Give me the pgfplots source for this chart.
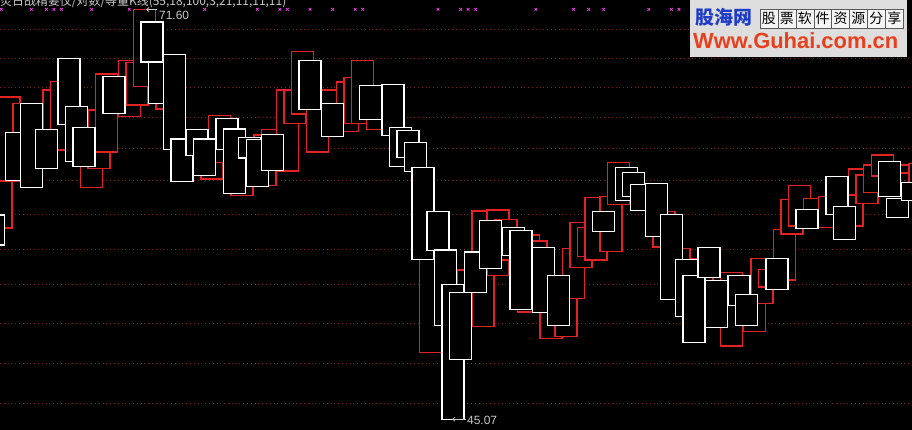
\documentclass[border=0pt]{standalone}
\usepackage{pgfplots}
\pgfplotsset{compat=1.18}
\usepackage{pgfplotstable}
\usepackage{fontspec}
\setmainfont{Liberation Sans}
\newfontfamily\cjk{Noto Sans CJK SC}
\usetikzlibrary{arrows.meta}

\definecolor{boxred}{RGB}{228,34,34}
\definecolor{gridred}{RGB}{120,30,30}
\definecolor{signal}{RGB}{215,60,215}
\definecolor{labelgray}{RGB}{200,200,200}
\definecolor{wmgray}{RGB}{222,222,222}
\definecolor{wmblue}{RGB}{30,60,200}
\definecolor{wmred}{RGB}{232,64,28}

% equivolume boxes: bar index, low, high
\pgfplotstableread{
k lo hi
-3 56.35 58.30
0 60.54 63.65
2 60.09 65.53
4 61.32 63.84
7 64.17 68.44
8 61.75 65.33
9 61.42 63.97
13 64.88 67.28
18 68.20 70.79
19 65.53 68.20
21 62.55 68.70
22 60.48 63.22
24 62.16 63.84
25 60.87 63.22
28 62.55 64.56
29 59.68 63.86
31 61.99 63.33
32 60.15 63.20
34 61.16 63.52
39 65.14 68.31
42 63.39 65.53
47 64.49 66.69
50 63.46 66.76
51 61.42 63.97
52 62.03 63.78
53 61.13 63.00
54 55.43 61.38
56 56.01 58.54
57 51.16 56.03
58 45.07 53.81
59 48.95 53.29
61 53.29 55.90
63 54.85 57.95
66 55.69 57.50
67 52.19 57.31
70 52.00 56.21
72 51.16 54.39
78 57.24 58.54
81 59.25 61.38
82 59.51 61.06
83 58.60 60.28
85 56.92 60.35
87 52.84 58.34
89 51.74 55.43
90 50.06 54.39
92 54.26 56.21
93 51.03 54.07
96 52.45 54.39
97 51.16 53.16
101 53.49 55.49
105 57.44 58.67
109 58.34 60.80
110 56.72 58.86
116 59.51 61.77
117 58.15 59.38
119 59.25 60.41
}\whiteboxes

% lagged boxes drawn in red behind the main ones
\pgfplotstableread{
k lo hi
-2 57.45 65.09
-1 60.50 65.92
1 61.21 65.53
5 62.50 66.39
6 62.50 66.95
10 60.09 63.15
11 61.32 65.09
12 62.36 67.41
15 64.66 68.29
16 65.42 68.16
17 66.60 71.60
20 65.16 67.68
26 60.63 63.15
27 61.68 64.75
30 59.55 62.50
33 60.19 63.48
34 61.21 63.84
36 61.14 66.39
37 64.23 66.39
38 64.84 68.87
40 62.36 65.74
42 63.80 66.39
43 63.69 65.09
44 63.69 66.89
45 64.23 67.21
46 64.23 68.29
48 63.84 65.74
55 49.38 57.33
60 51.50 54.74
62 51.07 58.56
64 54.37 58.62
65 55.38 58.02
68 52.00 57.00
69 52.79 56.61
71 50.31 54.09
73 50.42 53.44
74 52.90 56.14
75 54.91 57.80
76 55.60 57.50
77 55.38 59.44
79 55.92 59.48
80 58.99 61.71
86 56.24 58.51
88 53.44 56.14
91 52.79 55.49
94 51.50 54.26
95 49.82 54.56
98 50.74 53.44
99 52.58 55.49
100 53.65 54.78
102 54.09 57.37
103 57.05 59.31
104 57.58 60.22
106 57.65 59.38
108 57.50 59.48
111 57.58 60.56
112 59.59 61.26
113 59.05 60.89
114 59.74 61.53
115 60.82 62.18
118 61.00 61.53
120 59.27 61.64
}\redboxes

\pgfplotsset{
  redbox/.style={draw=boxred, fill=black, line width=1.5bp, line join=miter},
  whitebox/.style={draw=white, fill=black, line width=1.4bp, line join=miter},
}

% each box is its own closed path, so a later box hides the ones under it
\newcommand\drawboxes[2]{%
  \pgfplotstablegetrowsof{#1}%
  \pgfmathtruncatemacro\nrows{\pgfplotsretval-1}%
  \pgfplotsinvokeforeach{0,...,\nrows}{%
    \pgfplotstablegetelem{##1}{k}\of#1\let\bk\pgfplotsretval
    \pgfplotstablegetelem{##1}{lo}\of#1\let\blo\pgfplotsretval
    \pgfplotstablegetelem{##1}{hi}\of#1\let\bhi\pgfplotsretval
    \pgfmathsetmacro\xl{\bk-1.4608}%
    \pgfmathsetmacro\xr{\bk+1.4608}%
    \edef\doplot{\noexpand\addplot[#2] coordinates
      {(\xl,\blo) (\xr,\blo) (\xr,\bhi) (\xl,\bhi)} -- cycle;}%
    \doplot
  }%
}

\begin{document}
\begin{tikzpicture}
\useasboundingbox (0,0) rectangle (912bp,430bp);
\clip (0,0) rectangle (912bp,430bp);
\fill[black] (0,0) rectangle (912bp,430bp);

\begin{axis}[
  at={(0,0)}, anchor=south west, scale only axis,
  width=912bp, height=430bp,
  xmin=-2.1647, xmax=118.95, ymin=44.377, ymax=72.215,
  axis line style={draw=none}, tick style={draw=none},
  xtick=\empty,
  ytick={46.11,48.71,51.27,53.78,56.06,58.36,60.54,62.61,64.64,66.58,68.40,70.32},
  yticklabels={}, ymajorgrids,
  grid style={gridred, line width=0.9bp, dash pattern=on 1bp off 2.8bp},
  clip=true]
\drawboxes{\redboxes}{redbox}
\drawboxes{\whiteboxes}{whitebox}

% signal marks along the top
\addplot[only marks, mark=x, mark size=1.8bp, color=signal,
  mark options={line width=0.9bp}] coordinates {
  (-2,71.61) (2,71.61) (4,71.61) (5,71.61) (6,71.61) (10,71.61)
  (15,71.61) (25,71.61) (32,71.61) (35,71.61) (36,71.61) (39,71.61)
  (42,71.61) (45,71.61) (46,71.61) (56,71.61) (59,71.61) (60,71.61)
  (61,71.61) (69,71.61) (74,71.61) (76,71.61) (78,71.61) (84,71.61)
  (87,71.61) (88,71.61)};

% extreme labels
\draw[labelgray, line width=0.7bp, -{Straight Barb[length=2.5bp,width=4bp]}]
  (axis cs:18.69,71.60) -- (axis cs:17.22,71.60);
\node[labelgray, anchor=west, inner sep=0, font=\fontsize{12}{12}\selectfont]
  at (axis cs:18.95,71.21) {71.60};
\draw[labelgray, line width=0.7bp, -{Straight Barb[length=2.5bp,width=4bp]}]
  (axis cs:59.72,45.07) -- (axis cs:57.86,45.07);
\node[labelgray, anchor=west, inner sep=0, font=\fontsize{12}{12}\selectfont]
  at (axis cs:59.85,45.00) {45.07};
\end{axis}

% indicator title
\node[anchor=base west, inner sep=0, text=labelgray, font=\cjk\fontsize{12}{12}\selectfont]
  at (0,424bp) {炎日战精要仪/对数/等量K线(55,18,100,3,21,11,11,11)};

% site banner
\fill[wmgray] (690bp,373bp) rectangle (907bp,430bp);
\node[anchor=west, inner sep=0, text=wmblue, font=\cjk\bfseries\fontsize{19}{19}\selectfont]
  at (695bp,412.5bp) {股海网};
\foreach \c [count=\i] in {股,票,软,件,资,源,分,享}{
  \draw[gray!70!black, line width=0.4bp, fill=white!92!gray]
    ({760bp+(\i-1)*17.9bp},402bp) rectangle +(17.9bp,19bp);
  \node[inner sep=0, font=\cjk\fontsize{14}{14}\selectfont]
    at ({760bp+(\i-0.5)*17.9bp},411.5bp) {\c};
}
\node[anchor=west, inner sep=0, text=wmred, font=\bfseries\fontsize{22}{22}\selectfont]
  at (693bp,389bp) {Www.Guhai.com.cn};
\end{tikzpicture}
\end{document}
